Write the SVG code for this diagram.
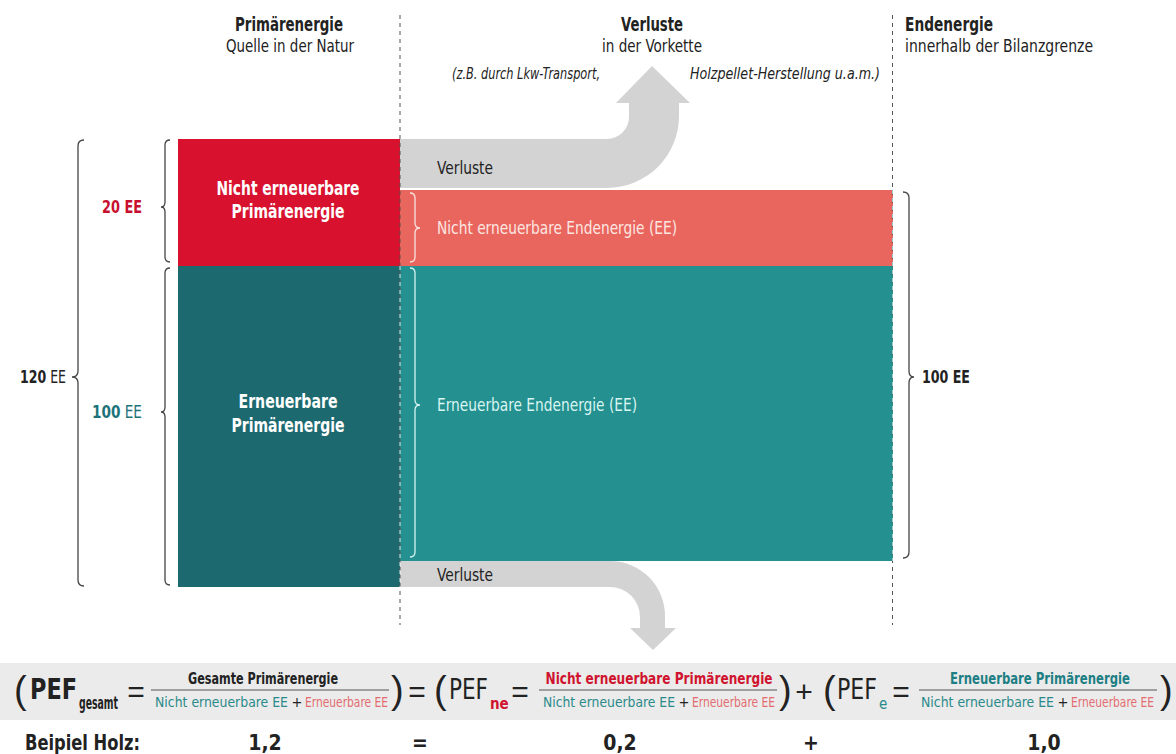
<svg xmlns="http://www.w3.org/2000/svg" width="1176" height="754" viewBox="0 0 1176 754">
<style>
text{font-family:"Liberation Sans Narrow","DejaVu Sans Condensed","Roboto Condensed","Liberation Sans",sans-serif;fill:#222}
.b{font-weight:bold}
.hd{font-size:19px;font-weight:bold}
.sub{font-size:17px}
.it{font-size:15px;font-style:italic}
.box{font-size:19px;font-weight:bold;fill:#fff}
.band{font-size:17px}
.ee{font-size:18px}
.brace{fill:none;stroke:#444;stroke-width:1.3}
.wbrace{fill:none;stroke-width:1.3}
.dash{stroke:#555;stroke-width:1;stroke-dasharray:4 4}
.num{font-size:15px;font-weight:bold}
.den{font-size:14.5px}
.par{font-family:"Liberation Sans",sans-serif;font-size:38px;fill:#222}
.eq{font-family:"Liberation Sans",sans-serif;font-size:30px;fill:#222}
.res{font-size:21px;font-weight:bold}
.teal{fill:#2a8a8a}
.pink{fill:#e36b70}
.fl{stroke:#555;stroke-width:1}
</style>

<!-- headers -->
<g id="header-primaer">
<text class="hd" x="289" y="31" text-anchor="middle" textLength="108" lengthAdjust="spacingAndGlyphs">Primärenergie</text>
<text class="sub" x="290" y="52" text-anchor="middle" textLength="128" lengthAdjust="spacingAndGlyphs">Quelle in der Natur</text>
</g>
<g id="header-verluste">
<text class="hd" x="652" y="31" text-anchor="middle" textLength="62" lengthAdjust="spacingAndGlyphs">Verluste</text>
<text class="sub" x="652" y="52" text-anchor="middle" textLength="100" lengthAdjust="spacingAndGlyphs">in der Vorkette</text>
<text class="it" x="452" y="79" textLength="148" lengthAdjust="spacingAndGlyphs">(z.B. durch Lkw-Transport,</text>
<text class="it" x="690" y="79" textLength="190" lengthAdjust="spacingAndGlyphs">Holzpellet-Herstellung u.a.m.)</text>
</g>
<g id="header-end">
<text class="hd" x="905" y="31" textLength="88" lengthAdjust="spacingAndGlyphs">Endenergie</text>
<text class="sub" x="905" y="52" textLength="188" lengthAdjust="spacingAndGlyphs">innerhalb der Bilanzgrenze</text>
</g>

<!-- loss arrows -->
<g id="verluste-oben">
<path d="M400,139 H607 A22,22 0 0 0 629,117 V103 H616 L652,66 L690,103 H679 V116 A72,72 0 0 1 607,188 H400 Z" fill="#d3d3d3"/>
<text class="band" x="437" y="174" textLength="56" lengthAdjust="spacingAndGlyphs">Verluste</text>
</g>
<g id="verluste-unten">
<path d="M400,561 H610 A55,55 0 0 1 665,616 V628 H676 L653,650 L630,628 H640 V617 A30,30 0 0 0 610,587 H400 Z" fill="#d3d3d3"/>
<text class="band" x="437" y="581" textLength="56" lengthAdjust="spacingAndGlyphs">Verluste</text>
</g>

<!-- primary energy boxes -->
<g id="primaer-ne">
<rect x="178" y="139" width="222" height="127" fill="#d8112e"/>
<text class="box" x="288" y="195" text-anchor="middle" textLength="143" lengthAdjust="spacingAndGlyphs">Nicht erneuerbare</text>
<text class="box" x="288" y="218" text-anchor="middle" textLength="113" lengthAdjust="spacingAndGlyphs">Primärenergie</text>
</g>
<g id="primaer-e">
<rect x="178" y="266" width="222" height="321" fill="#1c6a70"/>
<text class="box" x="288" y="408" text-anchor="middle" textLength="99" lengthAdjust="spacingAndGlyphs">Erneuerbare</text>
<text class="box" x="288" y="432" text-anchor="middle" textLength="113" lengthAdjust="spacingAndGlyphs">Primärenergie</text>
</g>

<!-- end energy bars -->
<g id="end-ne">
<rect x="400" y="190" width="493" height="76" fill="#e9665e"/>
<path class="wbrace" stroke="#fbe3de" d="M410,193 Q415,193 415,198 V223 Q415,228 420,228 Q415,228 415,233 V257 Q415,262 410,262"/>
<text class="band" x="437" y="234" style="fill:#fde6e2" textLength="240" lengthAdjust="spacingAndGlyphs">Nicht erneuerbare Endenergie (EE)</text>
</g>
<g id="end-e">
<rect x="400" y="266" width="493" height="295" fill="#24908f"/>
<path class="wbrace" stroke="#d6f4f1" d="M410,268 Q415,268 415,273 V400 Q415,405 420,405 Q415,405 415,410 V552 Q415,557 410,557"/>
<text class="band" x="437" y="411" style="fill:#d9f5f2" textLength="200" lengthAdjust="spacingAndGlyphs">Erneuerbare Endenergie (EE)</text>
</g>

<!-- dashed boundaries -->
<g id="grenzen">
<line class="dash" x1="400" y1="15" x2="400" y2="625"/>
<line x1="400" y1="266" x2="400" y2="587" stroke="#ffffff" stroke-width="1" stroke-dasharray="4 4" opacity="0.85"/>
<line class="dash" x1="892.5" y1="15" x2="892.5" y2="625" stroke="#777"/>
<line x1="892.5" y1="190" x2="892.5" y2="561" stroke="#9fc9c9" stroke-width="1" stroke-dasharray="4 4"/>
</g>

<!-- braces and amounts -->
<g id="summe-120">
<path class="brace" d="M84,140 Q78,140 78,146 V371 Q78,377 72,377 Q78,377 78,383 V580 Q78,586 84,586"/>
<text class="ee" x="66" y="383" text-anchor="end" textLength="46" lengthAdjust="spacingAndGlyphs"><tspan class="b">120</tspan> EE</text>
</g>
<g id="menge-20">
<path class="brace" d="M170,140 Q165,140 165,145 V202 Q165,207 161,207 Q165,207 165,212 V257 Q165,262 170,262"/>
<text class="ee b" x="142" y="213" text-anchor="end" style="fill:#c8102e" textLength="40" lengthAdjust="spacingAndGlyphs">20 EE</text>
</g>
<g id="menge-100">
<path class="brace" d="M170,268 Q165,268 165,273 V407 Q165,412 161,412 Q165,412 165,417 V580 Q165,585 170,585"/>
<text class="ee" x="142" y="418" text-anchor="end" style="fill:#1d7379" textLength="50" lengthAdjust="spacingAndGlyphs"><tspan class="b" style="fill:#1d7379">100</tspan> EE</text>
</g>
<g id="summe-end-100">
<path class="brace" d="M903,192 Q909,192 909,198 V371 Q909,377 914,377 Q909,377 909,383 V552 Q909,558 903,558"/>
<text class="ee b" x="922" y="383" textLength="48" lengthAdjust="spacingAndGlyphs">100 EE</text>
</g>

<!-- formula -->
<g id="formel">
<rect x="0" y="663" width="1176" height="57" fill="#ebebeb"/>
<text class="par" x="14" y="703">(</text>
<text class="b" x="30" y="699" font-size="28" textLength="47" lengthAdjust="spacingAndGlyphs">PEF</text>
<text class="b" x="79" y="709" font-size="17" textLength="39" lengthAdjust="spacingAndGlyphs">gesamt</text>
<text class="eq" x="136" y="702" text-anchor="middle">=</text>
<text class="num" x="263" y="684" text-anchor="middle" textLength="150" lengthAdjust="spacingAndGlyphs">Gesamte Primärenergie</text>
<line class="fl" x1="151" y1="690" x2="389" y2="690"/>
<text class="den teal" x="155" y="707" textLength="133" lengthAdjust="spacingAndGlyphs">Nicht erneuerbare EE</text>
<text class="den" x="297" y="707" text-anchor="middle">+</text>
<text class="den pink" x="305" y="707" textLength="83" lengthAdjust="spacingAndGlyphs">Erneuerbare EE</text>
<text class="par" x="391" y="703">)</text>
<text class="eq" x="417" y="702" text-anchor="middle">=</text>
<text class="par" x="434" y="703">(</text>
<text x="449" y="699" font-size="28" textLength="39" lengthAdjust="spacingAndGlyphs">PEF</text>
<text class="b" x="490" y="709" font-size="15" style="fill:#d0142f">ne</text>
<text class="eq" x="520" y="702" text-anchor="middle">=</text>
<text class="num" x="659" y="684" text-anchor="middle" style="fill:#d0142f" textLength="227" lengthAdjust="spacingAndGlyphs">Nicht erneuerbare Primärenergie</text>
<line class="fl" x1="539" y1="690" x2="777" y2="690"/>
<text class="den teal" x="543" y="707" textLength="132" lengthAdjust="spacingAndGlyphs">Nicht erneuerbare EE</text>
<text class="den" x="684" y="707" text-anchor="middle">+</text>
<text class="den pink" x="692" y="707" textLength="83" lengthAdjust="spacingAndGlyphs">Erneuerbare EE</text>
<text class="par" x="779" y="703">)</text>
<text class="eq" x="804" y="702" text-anchor="middle">+</text>
<text class="par" x="823" y="703">(</text>
<text x="837" y="699" font-size="28" textLength="40" lengthAdjust="spacingAndGlyphs">PEF</text>
<text x="879" y="709" font-size="15" style="fill:#2a8a8a">e</text>
<text class="eq" x="901" y="702" text-anchor="middle">=</text>
<text class="num" x="1040" y="684" text-anchor="middle" style="fill:#1d7f83" textLength="180" lengthAdjust="spacingAndGlyphs">Erneuerbare Primärenergie</text>
<line class="fl" x1="919" y1="690" x2="1157" y2="690"/>
<text class="den teal" x="921" y="707" textLength="133" lengthAdjust="spacingAndGlyphs">Nicht erneuerbare EE</text>
<text class="den" x="1063" y="707" text-anchor="middle">+</text>
<text class="den pink" x="1071" y="707" textLength="83" lengthAdjust="spacingAndGlyphs">Erneuerbare EE</text>
<text class="par" x="1160" y="703">)</text>
</g>

<!-- example -->
<g id="beispiel">
<text class="res" x="25" y="750" textLength="115" lengthAdjust="spacingAndGlyphs">Beipiel Holz:</text>
<text class="res" x="265" y="750" text-anchor="middle">1,2</text>
<text class="res" x="420" y="750" text-anchor="middle">=</text>
<text class="res" x="620" y="750" text-anchor="middle">0,2</text>
<text class="res" x="811" y="750" text-anchor="middle">+</text>
<text class="res" x="1044" y="750" text-anchor="middle">1,0</text>
</g>
</svg>
